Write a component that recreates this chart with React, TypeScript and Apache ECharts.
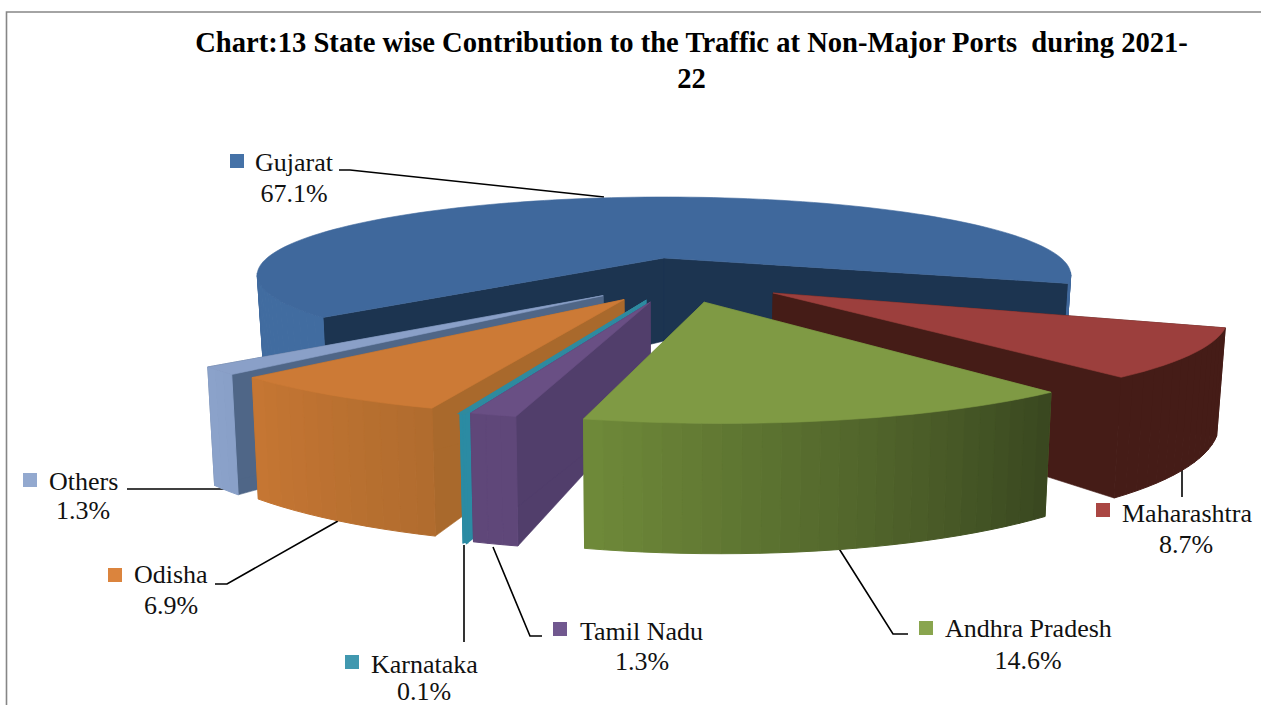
import React, { useEffect, useRef } from "react";
import * as echarts from "echarts";

const titleText = "Chart:13 State wise Contribution to the Traffic at Non-Major Ports  during 2021-\n22";
const categories = ["Gujarat", "Maharashtra", "Andhra Pradesh", "Tamil Nadu", "Karnataka", "Odisha", "Others"];
const shares = [67.1, 8.7, 14.6, 1.3, 0.1, 6.9, 1.3];

const keyColors = ["#4572A7", "#AA4643", "#89A54E", "#71588F", "#4198AF", "#DB843D", "#93A9CF"];
const topColors = ["#3F689C", "#9C3F3D", "#7F9A44", "#694F84", "#2F8A9E", "#CC7A36", "#8AA0C8"];
const sideColors = ["#1C3450", "#451C17", "#6B8439", "#513E6B", "#2B8BA3", "#A9692C", "#4F6687"];
// outer wall colour at the slice's clockwise start and end
const wallFrom = ["#416CA0", "#451C17", "#39471F", "#5F4779", "#2B8BA3", "#B06C2E", "#89A0C8"];
const wallTo = ["#3F689C", "#451C17", "#6F8A3A", "#5F4779", "#2B8BA3", "#C67633", "#8BA2CA"];

// label layout: key left/top, name left/centre y, share centre x/centre y
const keyPos = [[230, 154], [1096, 503], [919, 621], [553, 622], [345, 655], [108, 568], [23, 473]];
const namePos = [[255, 162], [1122, 513], [945, 628], [580, 631], [371, 664], [134, 574], [49, 481]];
const sharePos = [[294, 193], [1186, 544], [1028, 660], [642, 661], [424, 691.5], [171, 605], [83, 510]];
const leaders = [
  [[339, 170], [350, 170], [604, 197]],
  [[1182, 466], [1182, 497]],
  [[838, 547], [893, 634], [908, 634]],
  [[493, 547], [530, 636], [542, 636]],
  [[464, 545], [464, 642]],
  [[338, 521], [227, 584], [215, 584]],
  [[127, 489], [228, 489]],
];

// pie projection
const originX = 664;
const originY = 258;
const radiusX = 397;
const radiusY = 74.3;
const perspective = 0.218;
const explode = 0.27;
const startAngle = 227;
const anchorBias = 0.02;
const depthBase = 83;
const depthSlope = 31;
const bottomScale = 0.985;
// per-slice fit of the rendered view: tip shift (px), rim shift (px), rim angle shift at each edge (deg)
const tipFit = [[0, 0], [-11, 1], [-12, 0], [-6, 0], [-6, 0], [-3, 0], [0, 0]];
const rimFit = [[0, 0], [-3, -5], [0, -4.5], [0, -7], [0, -6], [0, -7], [0, -4.5]];
const angleFit = [[0, 0], [5.1, 3.5], [3.4, 1], [0.5, 0.5], [0.5, 0.5], [0.7, -0.4], [-0.6, -0.6]];

const rad = (d: number) => (d * Math.PI) / 180;
const dirOf = (deg: number) => [Math.sin(rad(deg)), -Math.cos(rad(deg))];

function project(u: number, v: number, bottom: boolean) {
  const w = 1 - perspective * v;
  const x = (radiusX * u) / w;
  const y = originY + (radiusY * v) / w;
  if (!bottom) return [originX + x, y];
  return [originX + x * bottomScale, y + depthBase + depthSlope * v];
}

function hex(c: string) {
  return [1, 3, 5].map((i) => parseInt(c.slice(i, i + 2), 16));
}
function mix(a: string, b: string, t: number) {
  const A = hex(a);
  const B = hex(b);
  return `rgb(${A.map((x, i) => Math.round(x + (B[i] - x) * t)).join(",")})`;
}

const total = shares.reduce((a, b) => a + b, 0);
const spans = (() => {
  let acc = startAngle;
  return shares.map((s) => {
    const sweep = (s / total) * 360;
    const item = { from: acc, to: acc + sweep, mid: acc + sweep / 2 };
    acc += sweep;
    return item;
  });
})();
const anchor = (() => {
  const d = dirOf(spans[0].mid);
  return [d[0] + anchorBias, d[1]];
})();

function sliceFaces(i: number) {
  const { mid } = spans[i];
  const from = spans[i].from + angleFit[i][0];
  const to = spans[i].to + angleFit[i][1];
  const sweep = to - from;
  const d = dirOf(mid);
  const tip = i === 0 ? [0, 0] : [explode * (d[0] - anchor[0]), explode * (d[1] - anchor[1])];
  const at = (deg: number, bottom: boolean) => {
    const r = dirOf(deg);
    const p = project(tip[0] + r[0], tip[1] + r[1], bottom);
    return [p[0] + tipFit[i][0] + rimFit[i][0], p[1] + tipFit[i][1] + rimFit[i][1]];
  };
  const shiftTip = (p: number[]) => [p[0] + tipFit[i][0], p[1] + tipFit[i][1]];
  const tipTop = shiftTip(project(tip[0], tip[1], false));
  const tipBottom = shiftTip(project(tip[0], tip[1], true));
  const thin = spans[i].to - spans[i].from < 1;
  const face = (points: number[][], color: string, width: number) => ({
    type: "polygon",
    shape: { points },
    style: { fill: color, stroke: color, lineWidth: thin ? 2.5 : width },
  });
  const children: any[] = [];
  children.push(face([tipTop, at(from, false), at(from, true), tipBottom], sideColors[i], 0.6));
  children.push(face([tipTop, at(to, false), at(to, true), tipBottom], sideColors[i], 0.6));
  const steps = Math.max(1, Math.ceil(sweep / 2));
  const rim: number[][] = [tipTop];
  for (let s = 0; s <= steps; s++) {
    const a = from + (sweep * s) / steps;
    rim.push(at(a, false));
    if (s < steps) {
      const b = from + (sweep * (s + 1)) / steps;
      if (dirOf((a + b) / 2)[1] > 0.2) {
        const c = mix(wallFrom[i], wallTo[i], (s + 0.5) / steps);
        children.push(face([at(a, false), at(b, false), at(b, true), at(a, true)], c, 1));
      }
    }
  }
  children.push(face(rim, topColors[i], 0.6));
  return children;
}

const paintOrder = categories
  .map((_, i) => i)
  .sort((a, b) => dirOf(spans[a].mid)[1] - dirOf(spans[b].mid)[1]);

const labelFont = '"Liberation Serif", "Times New Roman", serif';

function labelGraphics() {
  const out: any[] = [];
  categories.forEach((name, i) => {
    out.push({
      type: "rect",
      shape: { x: keyPos[i][0], y: keyPos[i][1], width: 14, height: 14 },
      style: { fill: keyColors[i] },
    });
    out.push({
      type: "text",
      style: {
        x: namePos[i][0], y: namePos[i][1], text: name, fill: "#111",
        font: `26px ${labelFont}`, textAlign: "left", textVerticalAlign: "middle",
      },
    });
    out.push({
      type: "text",
      style: {
        x: sharePos[i][0], y: sharePos[i][1], text: `${shares[i].toFixed(1)}%`, fill: "#111",
        font: `26px ${labelFont}`, textAlign: "center", textVerticalAlign: "middle",
      },
    });
    out.push({
      type: "polyline",
      shape: { points: leaders[i] },
      style: { fill: "none", stroke: "#000", lineWidth: 1.6 },
    });
  });
  return out;
}

export default function App() {
  const ref = useRef<HTMLDivElement>(null);
  useEffect(() => {
    const chart = echarts.init(ref.current!, undefined, { renderer: "svg" });
    chart.setOption({
      animation: false,
      backgroundColor: "#fff",
      title: {
        text: titleText,
        left: 686.5,
        top: 19,
        textAlign: "center",
        textStyle: { fontFamily: labelFont, fontWeight: "bold", fontSize: 28.6, lineHeight: 36, color: "#000" },
      },
      graphic: [
        {
          type: "rect",
          shape: { x: 6.5, y: 12, width: 1300, height: 720 },
          style: { fill: "none", stroke: "#868686", lineWidth: 1.6 },
        },
        ...labelGraphics(),
      ],
      series: [
        {
          type: "custom",
          coordinateSystem: "none",
          silent: true,
          z: 1,
          data: paintOrder.map((i) => [i, shares[i]]),
          renderItem: (_p: any, api: any) => ({
            type: "group",
            children: sliceFaces(api.value(0)),
          }),
        },
      ],
    });
    return () => chart.dispose();
  }, []);
  return <div ref={ref} style={{ position: "fixed", left: 0, top: 0, width: 1261, height: 705 }} />;
}
